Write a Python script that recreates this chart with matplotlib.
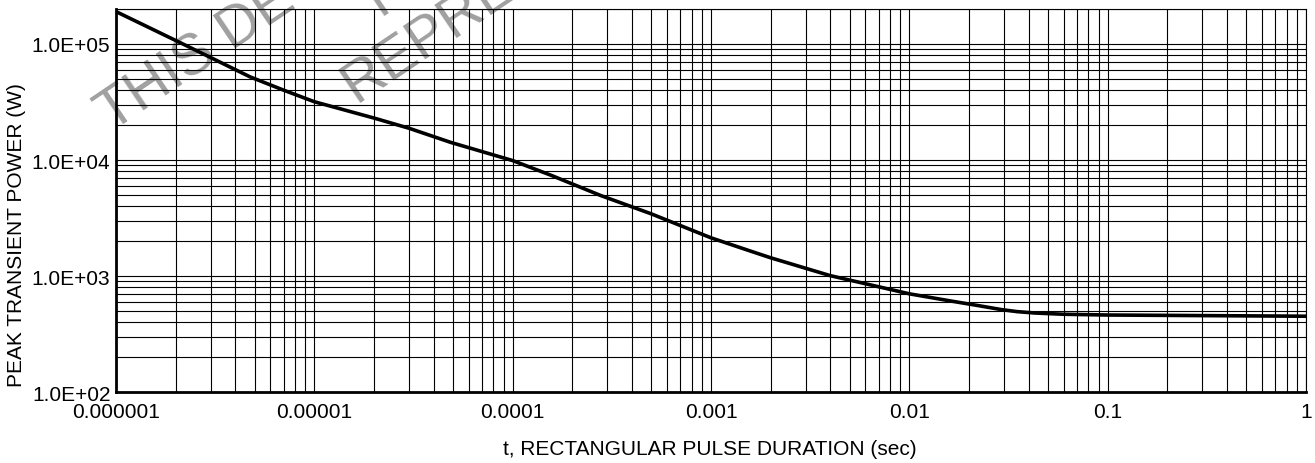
import numpy as np
import matplotlib.pyplot as plt
from matplotlib.ticker import FixedLocator, LogLocator, NullFormatter

plt.rcParams['font.family'] = ['Liberation Sans', 'DejaVu Sans']

# pulse duration (s) and peak transient power (W)
t_pulse = [1e-6, 2.2e-6, 4.75e-6, 7e-6, 1e-5, 2e-5, 3e-5, 4.87e-5, 1e-4,
           1.56e-4, 2.78e-4, 4.98e-4, 1e-3, 1.59e-3, 2e-3, 4e-3, 1e-2,
           1.63e-2, 2.2e-2, 2.92e-2, 3.5e-2, 4.28e-2, 6e-2, 0.1, 1.0]
p_peak = [1.9e5, 9.9e4, 5.2e4, 4.0e4, 3.18e4, 2.3e4, 1.88e4, 1.42e4, 9.9e3,
          7.4e3, 4.95e3, 3.45e3, 2.14e3, 1.64e3, 1.44e3, 1.01e3, 705,
          610, 560, 515, 495, 482, 470, 463, 452]

x_ticks = [1e-6, 1e-5, 1e-4, 1e-3, 1e-2, 0.1, 1]
x_labels = ["0.000001", "0.00001", "0.0001", "0.001", "0.01", "0.1", "1"]
y_ticks = [1e2, 1e3, 1e4, 1e5]
y_labels = ["1.0E+02", "1.0E+03", "1.0E+04", "1.0E+05"]

W, H = 1315, 464
fig = plt.figure(figsize=(W / 100, H / 100), dpi=100)
ax = fig.add_axes([116 / W, 1 - 393.3 / H, 1190 / W, 383.3 / H])
ax.patch.set_visible(False)

ax.plot(t_pulse, p_peak, color='black', lw=2.6, zorder=5,
        solid_joinstyle='round')

ax.set_xscale('log')
ax.set_yscale('log')
ax.set_xlim(1e-6, 1)
ax.set_ylim(1e2, 2.0e5)

ax.xaxis.set_major_locator(FixedLocator(x_ticks))
ax.set_xticklabels(x_labels)
ax.yaxis.set_major_locator(FixedLocator(y_ticks))
ax.set_yticklabels(y_labels)
ax.xaxis.set_minor_locator(LogLocator(base=10, subs=np.arange(2, 10)))
ax.yaxis.set_minor_locator(LogLocator(base=10, subs=np.arange(2, 10)))
ax.xaxis.set_minor_formatter(NullFormatter())
ax.yaxis.set_minor_formatter(NullFormatter())

ax.grid(True, which='both', color='black', lw=0.8)
ax.tick_params(which='both', length=0, labelsize=15)
ax.tick_params(axis='x', pad=7)
ax.tick_params(axis='y', pad=4)

for side in ['top', 'right']:
    ax.spines[side].set_linewidth(0.8)
for side in ['left', 'bottom']:
    ax.spines[side].set_linewidth(2.0)

fig.text(710 / W, 1 - 450 / H, "t, RECTANGULAR PULSE DURATION (sec)",
         ha='center', va='center', fontsize=15)
fig.text(17 / W, 1 - 235 / H, "PEAK TRANSIENT POWER (W)", rotation=90,
         ha='center', va='center', fontsize=15)

# watermark, clipped by the top of the figure
wm = dict(rotation=34, rotation_mode='anchor', ha='left', va='baseline',
          fontsize=41, color='#a0a0a0', zorder=-1)
fig.text(112 / W, 1 - 133 / H, "THIS DEVICE", **wm)
fig.text(380 / W, 1 - 17 / H, "PLEASE", **wm)
fig.text(356 / W, 1 - 104 / H, "REPRESENTATIVE", **wm)

fig.savefig("out.png", dpi=100)
